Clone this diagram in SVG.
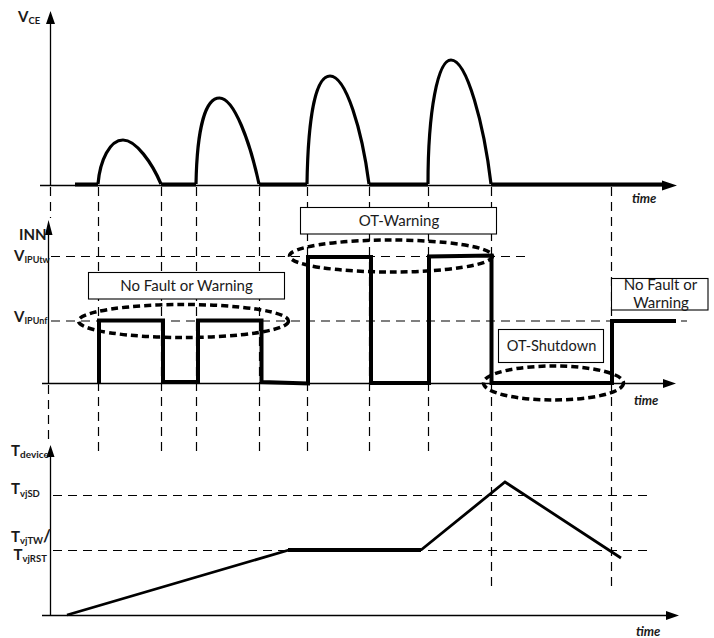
<svg xmlns="http://www.w3.org/2000/svg" width="714" height="638" viewBox="0 0 714 638">
<defs>
<style>
.axis{fill:none;stroke:#000;stroke-width:1.3}
.guide{fill:none;stroke:#000;stroke-width:1.2;stroke-dasharray:9 6}
.wave{fill:none;stroke:#000;stroke-width:3.2;stroke-linejoin:miter}
.heavy{stroke-width:4}
.ramp{stroke-width:2.8}
.oval{fill:none;stroke:#000;stroke-width:3.5;stroke-dasharray:7 4}
.box{fill:#fff;stroke:#000;stroke-width:1.1}
.head{fill:#000;stroke:none}
text{font-family:"Lato","Liberation Sans",sans-serif;fill:#1a1a1a}
.lbl{font-size:15px;text-anchor:middle}
.sym{font-size:15px;font-weight:700}
.sub{font-size:9.5px;font-weight:700}
.subn{font-size:9px;font-weight:700}
.subw{font-size:10px;font-weight:700}
.time{font-size:13px;font-weight:700;font-style:italic}
</style>
</defs>
<rect width="714" height="638" fill="#fff"/>
<g id="connectors">
<g id="guides">
<path class="guide" d="M50.500 187V218M98.500 187V451M161.500 187V451M196.500 187V451M259.500 187V451M307.500 187V451M369.500 187V451M428.500 187V451M491.500 187V586M611.500 187V587M48.500 385V445"/>
<path class="guide" d="M51 256.500H527M51 321H687M53 495.500H650M53 550.500H650"/>
</g>
<g id="axes">
<path class="axis" d="M50.500 22V185.500M40 185.500H664"/>
<path class="head" d="M50.500 11L55 24H46ZM677 185.500L662 180.500V190.500Z"/>
<path class="axis" d="M48.500 228V383.500M42 383.500H664"/>
<path class="head" d="M48.500 220L52.500 235H45ZM676 383.500L663 379V388Z"/>
<path class="axis" d="M50.500 455V615.500M42 615.500H667"/>
<path class="head" d="M50.500 445L54.500 457H46.500ZM679 615.500L666 611V620Z"/>
</g>
<g id="vce-wave">
<path class="wave" d="M98 184C100 160 110 140 123 140C136 140 152 163 161 184M196 184C197 130 205 98 219.500 98C234 98 250 142 259 184M307 184C308 120 315 76 330 76C346 76 362 130 369 184M428 184C428 110 438 60 451 60C467 60 484 125 491 184"/>
<path class="wave heavy" d="M75 184.500H98M161 184.500H196M259 184.500H307M369 184.500H428M491 184.500H662"/>
</g>
<g id="inn-wave">
<path class="wave heavy" d="M99 383V320.500H163V382H198V320.500H261.500V382L308 383.500V257H371V383H429V256.500L491.500 255.500V383H612V321H676"/>
</g>
<g id="tdevice-wave">
<path class="wave ramp" d="M67 615L289 550M421 550L505 482L621 558"/>
<path class="wave heavy" d="M288 550H421"/>
</g>
<ellipse class="oval" cx="183.500" cy="321" rx="105" ry="16.500"/>
<ellipse class="oval" cx="391" cy="256" rx="101.500" ry="16"/>
<ellipse class="oval" cx="553.500" cy="383" rx="70" ry="17"/>
</g>
<g id="node-no-fault-1"><rect class="box" x="88.500" y="272.500" width="196" height="26.500"/><text class="lbl" x="186.500" y="291">No Fault or Warning</text></g>
<g id="node-ot-warning"><rect class="box" x="300.500" y="207.500" width="196" height="26.500"/><text class="lbl" x="399" y="226">OT-Warning</text></g>
<g id="node-ot-shutdown"><rect class="box" x="498.500" y="329.500" width="105" height="33"/><text class="lbl" x="551.500" y="351" style="font-size:14.600px">OT-Shutdown</text></g>
<g id="node-no-fault-2"><rect class="box" x="611.500" y="278.500" width="96.500" height="31.500"/><text class="lbl" x="660.500" y="290">No Fault or</text><text class="lbl" x="661" y="308">Warning</text></g>
<g id="labels">
<text class="sym" x="18" y="22">V<tspan class="sub" dy="2">CE</tspan></text>
<text class="sym" x="19" y="240">INN</text>
<text class="sym" x="14" y="261">V<tspan class="subn" dy="2">IPUtw</tspan></text>
<text class="sym" x="14" y="322">V<tspan class="subn" dy="2">IPUnf</tspan></text>
<text class="sym" x="11" y="456">T<tspan class="subw" dy="2">device</tspan></text>
<text class="sym" x="11" y="494">T<tspan class="sub" dy="2.500">vjSD</tspan></text>
<text class="sym" x="11" y="542">T<tspan class="sub" dy="2">vjTW</tspan><tspan dy="-2" font-size="17">/</tspan></text>
<text class="sym" x="13.500" y="560">T<tspan class="sub" dy="2">vjRST</tspan></text>
<text class="time" x="632" y="203">time</text>
<text class="time" x="634" y="405">time</text>
<text class="time" x="636" y="636">time</text>
</g>
</svg>
